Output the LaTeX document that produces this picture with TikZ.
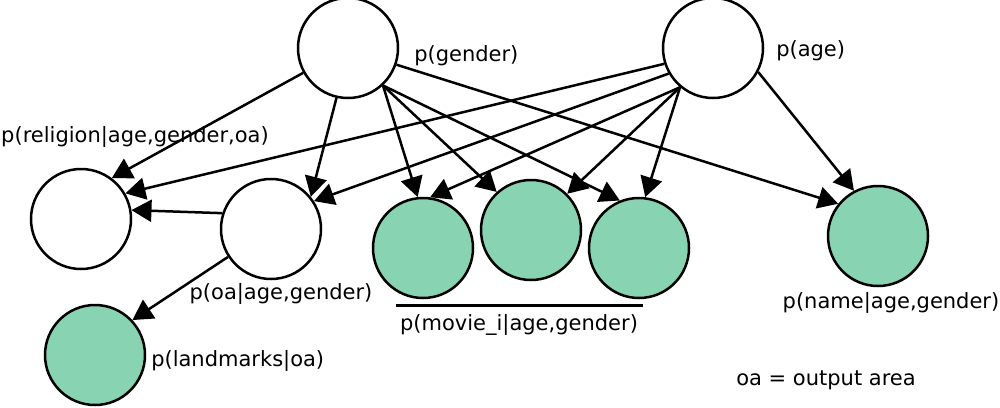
\documentclass[tikz,border=0pt]{standalone}
\usepackage{fontspec}
\setmainfont{DejaVu Sans}
\usetikzlibrary{arrows.meta, positioning}
\definecolor{obsgreen}{RGB}{136,212,178}
\tikzset {
    ->,
    >={Triangle[length=20pt, width=22pt]},
    var/.style={circle, draw, fill=white, minimum size=100pt, inner sep=0pt},
    obs/.style={var, fill=obsgreen},
    lbl/.style={font=\fontsize{21}{25}\selectfont, inner sep=0pt}
}

\begin{document}
\begin{tikzpicture}[x=1pt, y=-1pt, line width=2.5pt]
                    \useasboundingbox (0,0) rectangle (1000,407);

                    \node[var] (gender) at (348,48) {};
                    \node[var] (age) at (713,48) {};
                    \node[var] (religion) at (81,219) {};
                    \node[var] (oa) at (271,229) {};
                    \node[obs] (landmarks) at (95,355) {};
                    \node[obs] (movie1) at (423,248) {};
                    \node[obs] (movie2) at (531,230) {};
                    \node[obs] (movie3) at (639,248) {};
                    \node[obs] (name) at (878,236) {};

                    \node[lbl, anchor=west] (lgender) at (413,56) {p(gender)};
                    \node[lbl, anchor=west] (lage) at (775,51) {p(age)};
                    \node[lbl] (lreligion) at (135,137) {p(religion|age,gender,oa)};
                    \node[lbl] (loa) at (281,294) {p(oa|age,gender)};
                    \node[lbl, anchor=west] (llandmarks) at (150,361) {p(landmarks|oa)};
                    \node[lbl] (lmovie) at (519,325) {p(movie\_i|age,gender)};
                    \node[lbl] (lname) at (891,303) {p(name|age,gender)};
                    \node[lbl] (lnote) at (826,380) {oa = output area};

                    \draw[-, line width=3pt] (396,305) -- (643,305);

                    \path
                    (gender.209) edge (religion.53)
                    (gender.257) edge (oa.39)
                    (gender.313) edge (movie1.96)
                    (gender.313) edge (movie2.132)
                    (gender.313) edge (movie3.112)
                    (gender.341) edge (name.141)
                    (age.198) edge (religion.30)
                    (age.210) edge (oa.33)
                    (age.230) edge (movie1.82)
                    (age.230) edge (movie2.45)
                    (age.230) edge (movie3.83)
                    (age.332) edge (name.118)
                    (oa.162) edge (religion.10)
                    (oa.213) edge (landmarks.43);
                    \end{tikzpicture}
\end{document}
